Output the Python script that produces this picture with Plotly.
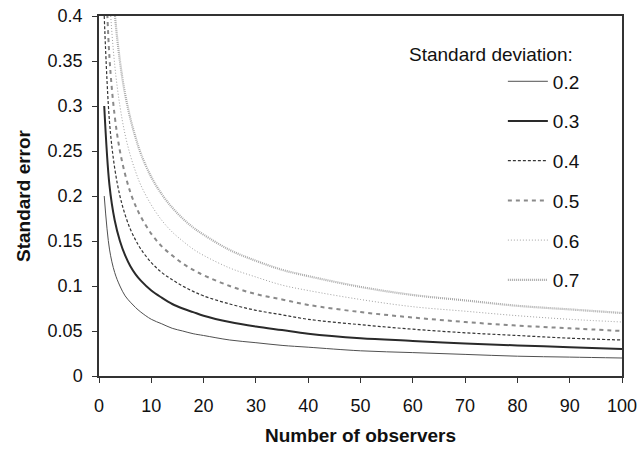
import plotly.graph_objects as go

# Number of observers (x positions where values were read)
observers = [1, 2, 3, 4, 5, 6, 7, 8, 10, 12, 14, 16, 18, 20, 25, 30, 35, 40, 50, 60, 70, 80, 90, 100]

# Standard error values, one list per standard deviation
se_02 = [.200, .141, .115, .100, .089, .082, .076, .071, .063, .058, .053, .050, .047, .045, .040, .037, .034, .032, .028, .026, .024, .022, .021, .020]
se_03 = [.300, .212, .173, .150, .134, .122, .113, .106, .095, .087, .080, .075, .071, .067, .060, .055, .051, .047, .042, .039, .036, .034, .032, .030]
se_04 = [.400, .283, .231, .200, .179, .163, .151, .141, .126, .115, .107, .100, .094, .089, .080, .073, .068, .063, .057, .052, .048, .045, .042, .040]
se_05 = [.500, .354, .289, .250, .224, .204, .189, .177, .158, .144, .134, .125, .118, .112, .100, .091, .085, .079, .071, .065, .060, .056, .053, .050]
se_06 = [.600, .424, .346, .300, .268, .245, .227, .212, .190, .173, .160, .150, .141, .134, .120, .110, .101, .095, .085, .077, .072, .067, .063, .060]
se_07 = [.700, .495, .404, .350, .313, .286, .265, .247, .221, .202, .187, .175, .165, .157, .140, .128, .118, .111, .099, .090, .084, .078, .074, .070]

series_names = ["0.2", "0.3", "0.4", "0.5", "0.6", "0.7"]
series_values = [se_02, se_03, se_04, se_05, se_06, se_07]
legend_title = "Standard deviation:"

styles = [
    dict(color="#505050", width=1, dash="solid"),
    dict(color="#2a2a2a", width=2, dash="solid"),
    dict(color="#353535", width=1.2, dash="3px,2px"),
    dict(color="#8a8a8a", width=2, dash="4px,4px"),
    dict(color="#a0a0a0", width=1, dash="1px,2px"),
    dict(color="#a8a8a8", width=2.2, dash="1px,1px"),
]

font_family = "Liberation Sans, Arial, sans-serif"

fig = go.Figure()
for name, vals, st in zip(series_names, series_values, styles):
    fig.add_trace(go.Scatter(
        x=observers, y=vals, name=name, mode="lines",
        line=dict(shape="spline", smoothing=1.0, **st),
        legendgroup=name,
    ))

fig.add_annotation(
    text=legend_title, xref="paper", yref="paper",
    x=0.911, y=0.892, xanchor="right", yanchor="middle",
    showarrow=False, font=dict(size=19, family=font_family, color="#111111"),
)

fig.update_layout(
    width=639, height=450,
    margin=dict(l=99, r=17, t=16, b=74),
    paper_bgcolor="white", plot_bgcolor="white",
    font=dict(family=font_family, color="#111111", size=18),
    showlegend=True,
    legend=dict(
        x=0.929, y=0.871, xanchor="right", yanchor="top",
        bgcolor="rgba(0,0,0,0)",
        font=dict(size=19, family=font_family),
        tracegroupgap=12,
        itemwidth=40,
    ),
    xaxis=dict(
        range=[0, 100], dtick=10, tick0=0, automargin=False,
        showgrid=False, zeroline=False,
        showline=True, linecolor="#333", linewidth=1.5, mirror=True,
        ticks="outside", ticklen=5, tickcolor="#333",
        tickfont=dict(size=18), ticklabelstandoff=8,
        title=dict(text="<b>Number of observers</b>", font=dict(size=19), standoff=13),
    ),
    yaxis=dict(
        range=[0, 0.4], dtick=0.05, tick0=0, automargin=False,
        showgrid=False, zeroline=False,
        showline=True, linecolor="#333", linewidth=1.5, mirror=True,
        ticks="outside", ticklen=5, tickcolor="#333",
        tickfont=dict(size=18), ticklabelstandoff=6,
        title=dict(text="<b>Standard error</b>", font=dict(size=19), standoff=12),
    ),
)

fig.write_html("out.html")
